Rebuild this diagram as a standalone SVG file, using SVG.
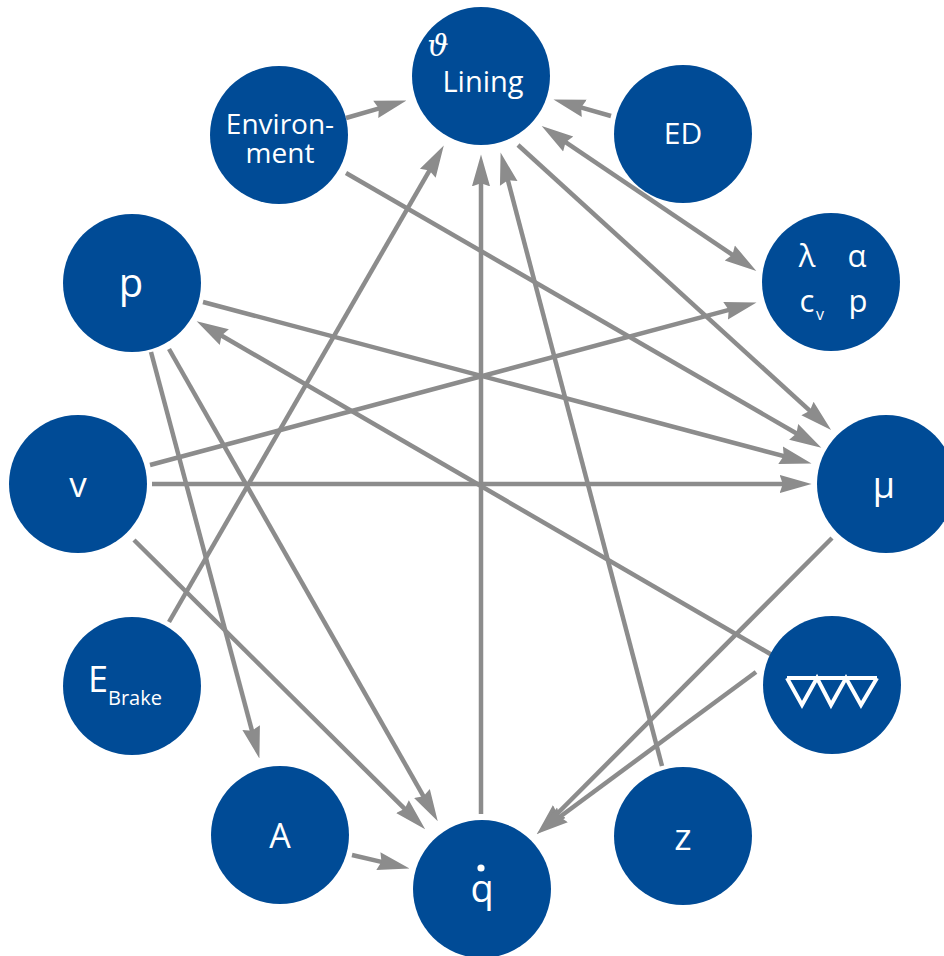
<svg xmlns="http://www.w3.org/2000/svg" width="944" height="956" viewBox="0 0 944 956">
<style>
.n{fill:#004b96}
.t{fill:#fff;font-family:"Open Sans","Liberation Sans",sans-serif;text-anchor:middle}
.e{stroke:#8c8c8c;stroke-width:4.5;fill:none;marker-end:url(#ah)}
</style>
<defs>
<marker id="ah" markerUnits="userSpaceOnUse" markerWidth="32" markerHeight="20" viewBox="0 0 30 17" refX="6" refY="8.5" orient="auto-start-reverse">
<path d="M0,0 L30,8.5 L0,17 L3,8.5 z" fill="#8c8c8c"/>
</marker>
</defs>
<rect width="944" height="956" fill="#fff"/>
<g id="connectors">
<line class="e" x1="346" y1="118" x2="381.9" y2="107.6"/>
<line class="e" x1="611" y1="116" x2="578.1" y2="106.6"/>
<line class="e" x1="562.9" y1="140.4" x2="735.1" y2="256.6" marker-start="url(#ah)"/>
<line class="e" x1="518" y1="145" x2="812.2" y2="412.8"/>
<line class="e" x1="346" y1="173" x2="799.2" y2="435"/>
<line class="e" x1="203" y1="302" x2="786.8" y2="456.9"/>
<line class="e" x1="152" y1="484" x2="786" y2="484"/>
<line class="e" x1="150" y1="465" x2="731.8" y2="309.2"/>
<line class="e" x1="151" y1="352" x2="252.8" y2="733.8"/>
<line class="e" x1="169" y1="349" x2="425.1" y2="799.1"/>
<line class="e" x1="134" y1="540" x2="407" y2="811.1"/>
<line class="e" x1="169" y1="622" x2="431" y2="167.8"/>
<line class="e" x1="481" y1="814" x2="481" y2="180"/>
<line class="e" x1="662" y1="766" x2="507.1" y2="177.2"/>
<line class="e" x1="772" y1="655" x2="218.8" y2="334"/>
<line class="e" x1="832" y1="538" x2="554.9" y2="816"/>
<line class="e" x1="756" y1="672" x2="557.3" y2="818.7"/>
<line class="e" x1="352" y1="855" x2="384.6" y2="862.6"/>
</g>
<g id="lining">
<circle class="n" cx="481" cy="76" r="69"/>
<text x="438" y="56" font-family="DejaVu Serif,serif" font-style="italic" font-size="30" fill="#fff" text-anchor="middle">ϑ</text>
<text class="t" x="483" y="92" font-size="29">Lining</text>
</g>
<g id="environment">
<circle class="n" cx="279" cy="135" r="69"/>
<text class="t" x="280" y="134" font-size="28">Environ-</text>
<text class="t" x="280" y="163" font-size="28">ment</text>
</g>
<g id="ed">
<circle class="n" cx="683" cy="134" r="69"/>
<text class="t" x="683" y="144" font-size="30">ED</text>
</g>
<g id="props">
<circle class="n" cx="831" cy="282" r="69"/>
<text class="t" x="807" y="267" font-size="31">λ</text>
<text class="t" x="857" y="267" font-size="31">α</text>
<text class="t" x="807" y="312" font-size="31">c</text>
<text class="t" x="820" y="320" font-size="16">v</text>
<text class="t" x="858" y="312" font-size="31">p</text>
</g>
<g id="mu">
<circle class="n" cx="886" cy="484" r="69"/>
<text class="t" x="884" y="498" font-size="36">μ</text>
</g>
<g id="pad">
<circle class="n" cx="832" cy="685" r="69"/>
<path d="M787,678 L877,678 M787,678 L802,705 L817,678 L831,705 L846,678 L861,705 L877,678" fill="none" stroke="#fff" stroke-width="4" stroke-linejoin="miter"/>
</g>
<g id="z">
<circle class="n" cx="683" cy="836" r="69"/>
<text class="t" x="683" y="850" font-size="37">z</text>
</g>
<g id="qdot">
<circle class="n" cx="482" cy="889" r="69"/>
<text class="t" x="482" y="902" font-size="38">q</text>
<circle cx="481" cy="868" r="3.6" fill="#fff"/>
</g>
<g id="a">
<circle class="n" cx="280" cy="835" r="69"/>
<text class="t" x="280" y="848" font-size="34">A</text>
</g>
<g id="ebrake">
<circle class="n" cx="132" cy="686" r="69"/>
<text x="88" y="692" font-family="Open Sans,Liberation Sans,sans-serif" font-size="36" fill="#fff">E<tspan font-size="20" dy="13">Brake</tspan></text>
</g>
<g id="v">
<circle class="n" cx="78" cy="484" r="69"/>
<text class="t" x="78" y="497" font-size="35">v</text>
</g>
<g id="p">
<circle class="n" cx="132" cy="283" r="69"/>
<text class="t" x="131" y="297" font-size="40">p</text>
</g>
</svg>
